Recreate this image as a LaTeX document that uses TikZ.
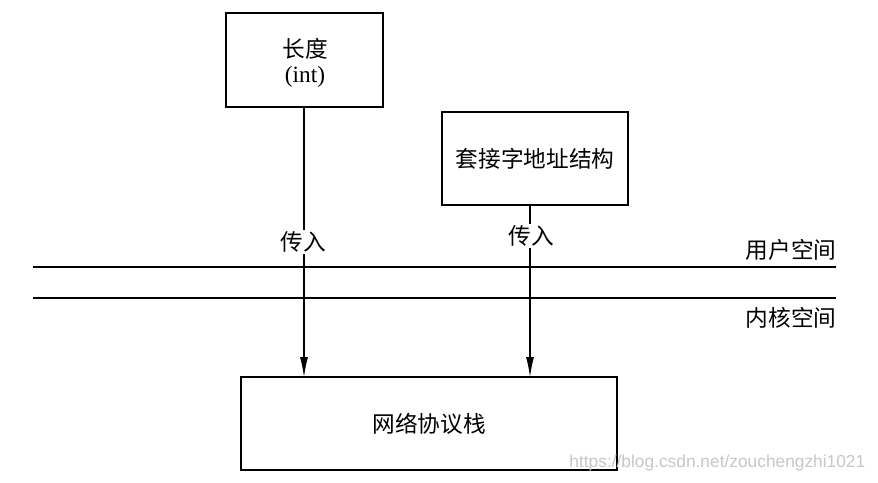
\documentclass[tikz,border=0pt]{standalone}
\usepackage{fontspec}
\setmainfont{Liberation Serif}
\newfontfamily\cjk{Noto Sans CJK SC}
\newfontfamily\wmfont{Liberation Sans}
\usetikzlibrary{arrows.meta}
\begin{document}
\begin{tikzpicture}[x=0.75pt,y=-0.75pt,
  box/.style={draw,line width=1pt,inner sep=0pt},
  lbl/.style={font=\cjk\fontsize{17}{20}\selectfont,inner sep=1pt},
  arr/.style={line width=0.8pt,-{Latex[length=15pt,width=6pt]}},
  sep/.style={line width=1pt}]
\useasboundingbox[fill=white] (0,0) rectangle (878,482);
% boxes
\node[box,minimum width=157*0.75pt,minimum height=94*0.75pt] (len) at (304.5,60) {};
\node[lbl] (lenA) at (305,49) {长度};
\node[font=\fontsize{17.5}{20}\selectfont,inner sep=1pt] (lenB) at (305,77) {(int)};
\node[box,minimum width=186*0.75pt,minimum height=93*0.75pt,lbl,inner sep=0pt] (addr) at (535,158.5) {套接字地址结构};
\node[box,minimum width=376*0.75pt,minimum height=93*0.75pt,lbl,inner sep=0pt] (stack) at (429,423.5) {网络协议栈};
% separator lines
\coordinate (l1a) at (33,267); \coordinate (l1b) at (836,267);
\coordinate (l2a) at (33,298); \coordinate (l2b) at (836,298);
\draw[sep] (l1a) -- (l1b);
\draw[sep] (l2a) -- (l2b);
\node[lbl,anchor=east] (user) at (838,250) {用户空间};
\node[lbl,anchor=east] (kern) at (838,318) {内核空间};
% arrows
\coordinate (a1s) at (304,107); \coordinate (a1e) at (304,377);
\coordinate (a2s) at (530,205); \coordinate (a2e) at (530,377);
\draw[arr] (a1s) -- (a1e);
\draw[arr] (a2s) -- (a2e);
\node[lbl,fill=white] (in1) at (303,242) {传入};
\node[lbl,fill=white] (in2) at (531,236) {传入};
% watermark
\node[font=\wmfont\fontsize{13}{15}\selectfont,text=black!22,anchor=east] (wm) at (870,463) {https://blog.csdn.net/zouchengzhi1021};
\end{tikzpicture}
\end{document}
